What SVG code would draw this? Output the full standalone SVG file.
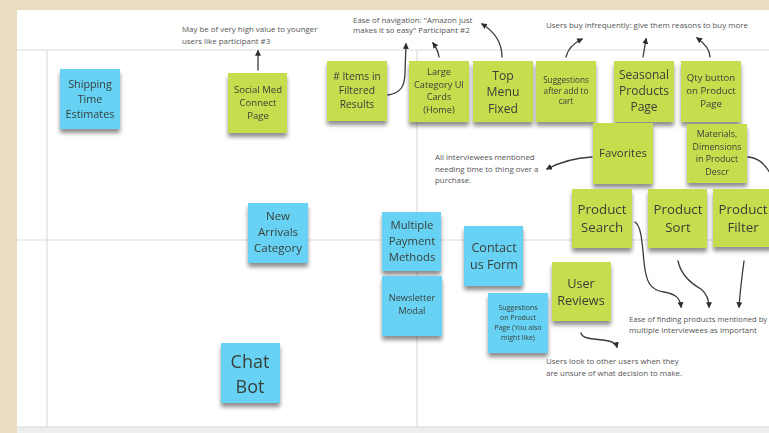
<svg xmlns="http://www.w3.org/2000/svg" width="769" height="433" viewBox="0 0 769 433">
  <style>
    .board { fill: #ffffff; }
    .grid { stroke: #dcdcdc; stroke-width: 1.2; fill: none; }
    .blue { fill: #68d2f4; }
    .green { fill: #c7dd4e; }
    .sticky { filter: url(#shadow); }
    .t { font-family: "Open Sans", "Liberation Sans", sans-serif; fill: #37403a; text-anchor: middle; }
    .note { font-family: "Open Sans", "Liberation Sans", sans-serif; fill: #555555; font-size: 7.9px; }
    .conn { fill: none; stroke: #3a3a3a; stroke-width: 1.3; stroke-linecap: round; }
    .arr { marker-end: url(#arrow); }
  </style>
  <defs>
    <filter id="shadow" x="-20%" y="-20%" width="140%" height="150%">
      <feGaussianBlur in="SourceAlpha" stdDeviation="2.2"/>
      <feOffset dx="0" dy="4" result="b"/>
      <feComponentTransfer><feFuncA type="linear" slope="0.45"/></feComponentTransfer>
      <feMerge><feMergeNode/><feMergeNode in="SourceGraphic"/></feMerge>
    </filter>
    <marker id="arrow" viewBox="0 0 10 10" refX="8" refY="5" markerWidth="6" markerHeight="6" orient="auto-start-reverse" markerUnits="userSpaceOnUse">
      <path d="M0,0 L10,5 L0,10 z" fill="#2e2e2e"/>
    </marker>
  </defs>

  <!-- page background and board -->
  <rect x="0" y="0" width="769" height="433" fill="#eadcc0"/>
  <rect class="board" x="17" y="10" width="752" height="417"/>
  <rect x="17" y="427" width="752" height="6" fill="#eeeeee"/>
  <line x1="17" y1="427" x2="769" y2="427" stroke="#d8d8d8" stroke-width="1"/>

  <!-- grid lines -->
  <g id="grid">
    <line class="grid" x1="17" y1="50" x2="769" y2="50"/>
    <line class="grid" x1="47" y1="50" x2="47" y2="427"/>
    <line class="grid" x1="17" y1="240" x2="769" y2="240"/>
    <line class="grid" x1="417" y1="50" x2="417" y2="427"/>
  </g>

  <!-- annotations -->
  <g id="notes">
    <text class="note" x="182" y="32">May be of very high value to younger</text>
    <text class="note" x="182" y="44">users like participant #3</text>
    <text class="note" x="353" y="23">Ease of navigation: "Amazon just</text>
    <text class="note" x="353" y="33">makes it so easy" Participant #2</text>
    <text class="note" x="546" y="28">Users buy infrequently: give them reasons to buy more</text>
    <text class="note" x="435" y="160">All interviewees mentioned</text>
    <text class="note" x="435" y="172">needing time to thing over a</text>
    <text class="note" x="435" y="183">purchase.</text>
    <text class="note" x="629" y="322" style="font-size:7.7px">Ease of finding products mentioned by</text>
    <text class="note" x="629" y="333">multiple interviewees as important</text>
    <text class="note" x="546" y="364">Users look to other users when they</text>
    <text class="note" x="546" y="376">are unsure of what decision to make.</text>
  </g>

  <!-- connectors -->
  <g id="connectors">
    <path class="conn arr" d="M258,70 L258,51"/>
    <path class="conn arr" d="M388,95 C401,93 405,86 405,72 L406,44"/>
    <path class="conn arr" d="M439,57 C438,50 436,47 433,43"/>
    <path class="conn arr" d="M502,57 C502,44 495,32 482,24"/>
    <path class="conn arr" d="M566,57 C568,48 574,43 582,39"/>
    <path class="conn arr" d="M643,57 L646,39"/>
    <path class="conn arr" d="M710,57 C710,49 704,43 697,38"/>
    <path class="conn arr" d="M592,157 C575,158 560,162 547,169"/>
    <path class="conn" d="M748,157 C758,158 764,163 770,173"/>
    <path class="conn arr" d="M635,222 C641,226 642,240 644,262 C646,282 650,290 664,292 C676,294 680,298 681,307"/>
    <path class="conn arr" d="M678,261 C681,275 692,284 701,289 C707,294 709,300 709,307"/>
    <path class="conn arr" d="M744,261 C742,276 740,292 739,307"/>
    <path class="conn arr" d="M581,333 C582,338 590,339 603,340 C612,341 616,343 617,347"/>
  </g>

  <!-- stickies -->
  <g id="shipping" class="sticky">
    <rect class="blue" x="60" y="69" width="60" height="60"/>
    <text class="t" font-size="10.8"><tspan x="90" y="87.5">Shipping</tspan><tspan x="90" y="102.5">Time</tspan><tspan x="90" y="117.5">Estimates</tspan></text>
  </g>
  <g id="social-med" class="sticky">
    <rect class="green" x="228" y="73" width="59" height="60"/>
    <text class="t" font-size="9.6"><tspan x="258" y="93">Social Med</tspan><tspan x="258" y="106">Connect</tspan><tspan x="258" y="119">Page</tspan></text>
  </g>
  <g id="items-filtered" class="sticky">
    <rect class="green" x="327" y="61" width="60" height="60"/>
    <text class="t" font-size="10.3"><tspan x="357" y="80"># Items in</tspan><tspan x="357" y="94">Filtered</tspan><tspan x="357" y="108">Results</tspan></text>
  </g>
  <g id="large-category" class="sticky">
    <rect class="green" x="409" y="61" width="60" height="61"/>
    <text class="t" font-size="9.2"><tspan x="439" y="75">Large</tspan><tspan x="439" y="87.5">Category UI</tspan><tspan x="439" y="100">Cards</tspan><tspan x="439" y="112.5">(Home)</tspan></text>
  </g>
  <g id="top-menu" class="sticky">
    <rect class="green" x="473" y="61" width="60" height="61"/>
    <text class="t" font-size="12.2"><tspan x="503" y="79.5">Top</tspan><tspan x="503" y="96">Menu</tspan><tspan x="503" y="112.5">Fixed</tspan></text>
  </g>
  <g id="suggestions-cart" class="sticky">
    <rect class="green" x="536" y="61" width="60" height="61"/>
    <text class="t" font-size="8.2"><tspan x="566" y="83">Suggestions</tspan><tspan x="566" y="93.5">after add to</tspan><tspan x="566" y="104">cart</tspan></text>
  </g>
  <g id="seasonal" class="sticky">
    <rect class="green" x="614" y="61" width="60" height="61"/>
    <text class="t" font-size="12"><tspan x="644" y="79">Seasonal</tspan><tspan x="644" y="95">Products</tspan><tspan x="644" y="111">Page</tspan></text>
  </g>
  <g id="qty-button" class="sticky">
    <rect class="green" x="681" y="61" width="60" height="61"/>
    <text class="t" font-size="9.6"><tspan x="711" y="81">Qty button</tspan><tspan x="711" y="94">on Product</tspan><tspan x="711" y="107">Page</tspan></text>
  </g>
  <g id="favorites" class="sticky">
    <rect class="green" x="593" y="123" width="60" height="61"/>
    <text class="t" font-size="11.3" x="623" y="157">Favorites</text>
  </g>
  <g id="materials" class="sticky">
    <rect class="green" x="687" y="124" width="60" height="59"/>
    <text class="t" font-size="8.9"><tspan x="717" y="137">Materials,</tspan><tspan x="717" y="149.5">Dimensions</tspan><tspan x="717" y="162">in Product</tspan><tspan x="717" y="174.5">Descr</tspan></text>
  </g>
  <g id="product-search" class="sticky">
    <rect class="green" x="572" y="189" width="60" height="59"/>
    <text class="t" font-size="13.3"><tspan x="602" y="214">Product</tspan><tspan x="602" y="232">Search</tspan></text>
  </g>
  <g id="product-sort" class="sticky">
    <rect class="green" x="648" y="189" width="59" height="59"/>
    <text class="t" font-size="13.3"><tspan x="678" y="214">Product</tspan><tspan x="678" y="232">Sort</tspan></text>
  </g>
  <g id="product-filter" class="sticky">
    <rect class="green" x="713" y="189" width="60" height="58"/>
    <text class="t" font-size="13.3"><tspan x="743" y="214">Product</tspan><tspan x="743" y="232">Filter</tspan></text>
  </g>
  <g id="new-arrivals" class="sticky">
    <rect class="blue" x="248" y="203" width="60" height="60"/>
    <text class="t" font-size="11.5"><tspan x="278" y="220">New</tspan><tspan x="278" y="236">Arrivals</tspan><tspan x="278" y="252">Category</tspan></text>
  </g>
  <g id="multiple-payment" class="sticky">
    <rect class="blue" x="382" y="212" width="59" height="59"/>
    <text class="t" font-size="11.3"><tspan x="412" y="229">Multiple</tspan><tspan x="412" y="245">Payment</tspan><tspan x="412" y="260.5">Methods</tspan></text>
  </g>
  <g id="newsletter" class="sticky">
    <rect class="blue" x="382" y="276" width="60" height="60"/>
    <text class="t" font-size="9.2"><tspan x="412" y="301">Newsletter</tspan><tspan x="412" y="314">Modal</tspan></text>
  </g>
  <g id="contact-form" class="sticky">
    <rect class="blue" x="464" y="226" width="59" height="60"/>
    <text class="t" font-size="12.6"><tspan x="494" y="252">Contact</tspan><tspan x="494" y="269">us Form</tspan></text>
  </g>
  <g id="suggestions-product" class="sticky">
    <rect class="blue" x="488" y="293" width="60" height="60"/>
    <text class="t" font-size="7"><tspan x="518" y="310">Suggestions</tspan><tspan x="518" y="320">on Product</tspan><tspan x="518" y="330">Page (You also</tspan><tspan x="518" y="340">might like)</tspan></text>
  </g>
  <g id="user-reviews" class="sticky">
    <rect class="green" x="552" y="262" width="59" height="59"/>
    <text class="t" font-size="12.7"><tspan x="581" y="288">User</tspan><tspan x="581" y="305">Reviews</tspan></text>
  </g>
  <g id="chat-bot" class="sticky">
    <rect class="blue" x="221" y="343" width="59" height="60"/>
    <text class="t" font-size="18"><tspan x="250" y="368">Chat</tspan><tspan x="250" y="393">Bot</tspan></text>
  </g>
</svg>
